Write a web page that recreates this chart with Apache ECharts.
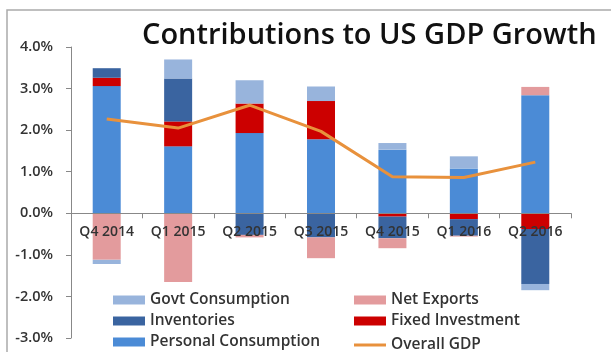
<!DOCTYPE html>
<html>
<head>
<meta charset="utf-8">
<script src="https://cdn.jsdelivr.net/npm/echarts@6/dist/echarts.min.js"></script>
<style>
  html, body { margin: 0; padding: 0; background: #fff; }
  #chart { width: 611px; height: 352px; }
</style>
</head>
<body>
<div id="chart"></div>
<script>
// 数据
var quarters = ['Q4 2014', 'Q1 2015', 'Q2 2015', 'Q3 2015', 'Q4 2015', 'Q1 2016', 'Q2 2016'];
var personalConsumption = [3.06, 1.61, 1.93, 1.78, 1.53, 1.08, 2.84];
var fixedInvestment = [0.20, 0.60, 0.71, 0.92, -0.08, -0.14, -0.38];
var inventories = [0.23, 1.03, -0.52, -0.58, -0.52, -0.40, -1.32];
var netExports = [-1.12, -1.65, -0.06, -0.50, -0.24, -0.02, 0.20];
var govtConsumption = [-0.10, 0.46, 0.56, 0.35, 0.16, 0.29, -0.15];
var overallGdp = [2.27, 2.05, 2.60, 1.97, 0.88, 0.86, 1.23];

var font = 'Open Sans';
var txtColor = '#333';
var lineColor = '#e8913c';

// 柱状堆叠
function barSeries(name, data, color) {
    return {
        name: name,
        type: 'bar',
        stack: 'gdp',
        barWidth: 28,
        data: data,
        itemStyle: { color: color }
    };
}

// 图例：每项单独定位，排成两列三行
function legendItem(name, left, top, h) {
    return {
        data: [{ name: name, icon: 'rect' }],
        left: left,
        top: top,
        padding: 0,
        itemWidth: 32,
        itemHeight: h || 9,
        textStyle: { fontFamily: font, fontSize: 15.5, fontWeight: 600, color: txtColor, lineHeight: 18 }
    };
}

var myChart = echarts.init(document.getElementById('chart'));
var option = {
    animation: false,
    title: {
        text: 'Contributions to US GDP Growth',
        left: 137,
        top: 16,
        textStyle: { fontFamily: font, fontSize: 29, fontWeight: 600, color: '#111' }
    },
    graphic: [{
        type: 'rect',
        shape: { x: 7, y: 10, width: 700, height: 400 },
        style: { fill: 'none', stroke: '#aaa', lineWidth: 1.5 }
    }],
    legend: [
        legendItem('Govt Consumption', 113, 291),
        legendItem('Net Exports', 354, 291),
        legendItem('Inventories', 113, 312),
        legendItem('Fixed Investment', 354, 312),
        legendItem('Personal Consumption', 113, 333),
        legendItem('Overall GDP', 354, 336, 3)
    ],
    grid: { left: 71, right: 40, top: 47, bottom: 14 },
    xAxis: {
        type: 'category',
        data: quarters,
        z: 10,
        offset: -124.7,
        axisLine: { onZero: false, lineStyle: { color: '#888' } },
        axisTick: { show: true, length: 5, lineStyle: { color: '#888' } },
        axisLabel: { fontFamily: font, fontSize: 14, fontWeight: 600, color: txtColor, margin: 12 }
    },
    yAxis: {
        type: 'value',
        min: -3,
        max: 4,
        interval: 1,
        axisLine: { show: true, lineStyle: { color: '#888' } },
        axisTick: { show: true, length: 5, lineStyle: { color: '#888' } },
        splitLine: { show: false },
        axisLabel: {
            fontFamily: font, fontSize: 14.5, fontWeight: 600, color: txtColor, margin: 18,
            formatter: function (v) { return v.toFixed(1) + '%'; }
        }
    },
    series: [
        barSeries('Personal Consumption', personalConsumption, '#4b8bd6'),
        barSeries('Fixed Investment', fixedInvestment, '#cc0000'),
        barSeries('Inventories', inventories, '#3a64a0'),
        barSeries('Net Exports', netExports, '#e39b9d'),
        barSeries('Govt Consumption', govtConsumption, '#98b4dc'),
        {
            name: 'Overall GDP',
            type: 'line',
            data: overallGdp,
            symbol: 'none',
            z: 5,
            lineStyle: { color: lineColor, width: 3 },
            itemStyle: { color: lineColor }
        }
    ]
};
myChart.setOption(option);
</script>
</body>
</html>
